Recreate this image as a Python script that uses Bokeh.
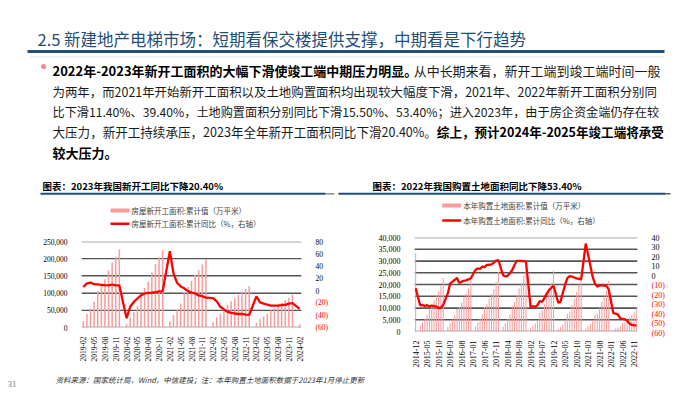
import math
import numpy as np
from bokeh.plotting import figure
from bokeh.models import (Range1d, FixedTicker, ColumnDataSource, NumeralTickFormatter)
from bokeh.layouts import column, row
from bokeh.embed import file_html
from bokeh.resources import INLINE
from bokeh.core.properties import value

CJK = "Noto Sans CJK SC"
SERIF = "Liberation Serif"
BAR_COLOR = "#F79C9C"
LINE_COLOR = "#FF0000"
GRID_COLOR = "#555555"
NAVY = "#1F4E79"

# ---------------- texts ----------------
TITLE = "2.5 新建地产电梯市场：短期看保交楼提供支撑，中期看是下行趋势"
PARAGRAPH = [
    [("2022年-2023年新开工面积的大幅下滑使竣工端中期压力明显。", True), ("从中长期来看，新开工端到竣工端时间一般", False)],
    [("为两年，而2021年开始新开工面积以及土地购置面积均出现较大幅度下滑，2021年、2022年新开工面积分别同", False)],
    [("比下滑11.40%、39.40%，土地购置面积分别同比下滑15.50%、53.40%；进入2023年，由于房企资金端仍存在较", False)],
    [("大压力，新开工持续承压，2023年全年新开工面积同比下滑20.40%。", False), ("综上，预计2024年-2025年竣工端将承受", True)],
    [("较大压力。", True)],
]
C1_TITLE = "图表：2023年我国新开工同比下降20.40%"
C2_TITLE = "图表：2022年我国购置土地面积同比下降53.40%"
C1_LEG = ["房屋新开工面积:累计值（万平米）", "房屋新开工面积:累计同比（%，右轴）"]
C2_LEG = ["本年购置土地面积:累计值（万平米）", "本年购置土地面积:累计同比（%，右轴）"]
SOURCE = "资料来源：国家统计局，Wind，中信建投；注：本年购置土地面积数据于2023年1月停止更新"
PAGE_NO = "31"

# ---------------- chart 1 data: 房屋新开工面积 (2019-02 .. 2024-02) ----------------
c1_area_2019 = [18814, 39394, 56000, 75000, 105509, 121000, 140000, 165707, 188837, 206024, 227154]  # Feb..Dec
c1_area_2020 = [None, 10370, 28203, 44272, 61557, 97537, 114942, 132795, 160001, 183896, 204125, 224433]
c1_area_2021 = [None, 17093, 36163, 52297, 69996, 101288, 118011, 135640, 152944, 166736, 182820, 198895]
c1_area_2022 = [None, 15115, 29638, 39739, 51628, 66423, 76091, 85062, 94767, 103722, 111632, 120587]
c1_area_2023 = [None, 13567, 24121, 31832, 39723, 49880, 56969, 63891, 72123, 79177, 86499, 95376]
c1_area_2024 = [None, 9429]
c1_yoy_2019 = [6.0, 11.9, 13.1, 10.5, 10.1, 9.5, 8.9, 8.6, 10.0, 8.6, 8.5]
c1_yoy_2020 = [None, -44.9, -26.2, -18.4, -12.8, -7.6, -4.5, -3.6, -3.4, -2.6, -1.1, -1.2]
c1_yoy_2021 = [None, 64.3, 28.2, 12.8, 6.9, 3.8, -0.9, -3.2, -4.5, -7.7, -9.1, -11.4]
c1_yoy_2022 = [None, -12.2, -17.5, -26.3, -30.6, -34.4, -36.1, -37.2, -38.0, -37.8, -38.9, -39.4]
c1_yoy_2023 = [None, -9.4, -19.2, -21.2, -22.6, -24.3, -24.5, -24.4, -23.4, -23.2, -21.2, -20.4]
c1_yoy_2024 = [None, -29.7]
c1_tick_labels = ["2019-02", "2019-05", "2019-08", "2019-11", "2020-02", "2020-05", "2020-08",
                  "2020-11", "2021-02", "2021-05", "2021-08", "2021-11", "2022-02", "2022-05",
                  "2022-08", "2022-11", "2023-02", "2023-05", "2023-08", "2023-11", "2024-02"]
c1_left_ticks = [0, 50000, 100000, 150000, 200000, 250000]
c1_right_ticks = [-60, -40, -20, 0, 20, 40, 60, 80]

# ---------------- chart 2 data: 本年购置土地面积 (2014-12 .. 2022-12) ----------------
c2_area_2014 = [33383]  # Dec
c2_area_2015 = [None, 2550, 3985, 5460, 7180, 9830, 11600, 13300, 15300, 17040, 19300, 22811]
c2_area_2016 = [None, 2032, 3586, 5060, 6900, 9525, 10575, 12370, 14398, 16111, 18266, 22025]
c2_area_2017 = [None, 2155, 3801, 5354, 7275, 10286, 11622, 13720, 16022, 18036, 20983, 25508]
c2_area_2018 = [None, 2112, 3736, 5288, 7201, 10956, 12597, 15461, 18416, 20727, 23951, 29142]
c2_area_2019 = [None, 1392, 2501, 3501, 4811, 7942, 8902, 11514, 14695, 17250, 20550, 25822]
c2_area_2020 = [None, 984, 1841, 2839, 4655, 7520, 8607, 11157, 14136, 16849, 19857, 25536]
c2_area_2021 = [None, 1313, 2370, 3197, 4596, 6988, 7647, 9844, 12645, 14907, 17397, 21590]
c2_area_2022 = [None, 758, 1378, 1709, 2377, 3628, 3925, 4942, 5944, 7009, 8199, 10052]
c2_yoy_2014 = [-14.0]
c2_yoy_2015 = [None, -32.3, -31.8, -33.0, -32.0, -33.5, -32.5, -33.0, -33.5, -35.0, -34.5, -31.7]
c2_yoy_2016 = [None, -19.5, -9.0, -7.0, -5.0, -3.0, -8.5, -7.0, -6.0, -5.5, -4.5, -3.4]
c2_yoy_2017 = [None, 5.4, 7.2, 6.5, 9.1, 8.5, 10.9, 11.0, 11.4, 13.2, 15.5, 15.8]
c2_yoy_2018 = [None, 0.0, -1.5, -0.8, 2.0, 5.4, 10.7, 15.2, 15.2, 15.0, 14.8, 14.2]
c2_yoy_2019 = [None, -34.1, -33.1, -33.8, -32.0, -27.6, -28.5, -24.5, -20.0, -16.0, -13.5, -11.4]
c2_yoy_2020 = [None, -29.3, -28.5, -19.0, -10.2, -3.3, -1.0, -1.5, -2.5, -3.5, -4.0, -4.5]
c2_yoy_2021 = [None, 33.5, 22.0, 10.0, -2.0, -9.0, -12.3, -11.0, -11.0, -11.2, -11.6, -15.5]
c2_yoy_2022 = [None, -40.5, -41.0, -42.0, -46.0, -46.5, -47.0, -48.5, -51.5, -53.0, -53.4, -53.4]
c2_tick_labels = ["2014-12", "2015-05", "2015-10", "2016-03", "2016-08", "2017-01", "2017-06",
                  "2017-11", "2018-04", "2018-09", "2019-02", "2019-07", "2019-12", "2020-05",
                  "2020-10", "2021-03", "2021-08", "2022-01", "2022-06", "2022-11"]
c2_left_ticks = [0, 5000, 10000, 15000, 20000, 25000, 30000, 35000, 40000]
c2_right_ticks = [-60, -50, -40, -30, -20, -10, 0, 10, 20, 30, 40]


def month_list(y0, m0, y1, m1):
    out = []
    y, m = y0, m0
    while (y, m) <= (y1, m1):
        out.append(f"{y}-{m:02d}")
        m += 1
        if m > 12:
            y, m = y + 1, 1
    return out


c1_months = month_list(2019, 2, 2024, 2)
c1_area = c1_area_2019 + c1_area_2020 + c1_area_2021 + c1_area_2022 + c1_area_2023 + c1_area_2024
c1_yoy = c1_yoy_2019 + c1_yoy_2020 + c1_yoy_2021 + c1_yoy_2022 + c1_yoy_2023 + c1_yoy_2024
c2_months = month_list(2014, 12, 2022, 12)
c2_area = (c2_area_2014 + c2_area_2015 + c2_area_2016 + c2_area_2017 + c2_area_2018 +
           c2_area_2019 + c2_area_2020 + c2_area_2021 + c2_area_2022)
c2_yoy = (c2_yoy_2014 + c2_yoy_2015 + c2_yoy_2016 + c2_yoy_2017 + c2_yoy_2018 +
          c2_yoy_2019 + c2_yoy_2020 + c2_yoy_2021 + c2_yoy_2022)


def style_axis(ax, font_px, standoff, color="#000000"):
    ax.axis_line_color = None
    ax.major_tick_line_color = None
    ax.minor_tick_line_color = None
    ax.major_label_standoff = standoff
    ax.major_label_text_font = SERIF
    ax.major_label_text_font_size = f"{font_px}px"
    ax.major_label_text_color = color


def right_axis_fig(width, height, bt, bb, yr, ticks, color, font_px, standoff):
    """Narrow figure whose only content is a right-hand y axis (secondary scale)."""
    f = figure(width=width, height=height, x_range=Range1d(0, 1), y_range=yr,
               output_backend="svg", toolbar_location=None,
               x_axis_location=None, y_axis_location="right",
               min_border_left=0, min_border_right=width - 1,
               min_border_top=bt, min_border_bottom=bb)
    f.grid.visible = False
    f.outline_line_color = None
    ax = f.yaxis[0]
    ax.ticker = FixedTicker(ticks=ticks)
    ax.major_label_overrides = {t: (f"({abs(t)})" if t < 0 else str(t)) for t in ticks}
    style_axis(ax, font_px, standoff, color)
    return f


def make_chart(main_w, side_w, height, bl, bt, fh, bb, months, area, yoy, tick_labels,
               left_ticks, right_ticks, font_px, pos_frame_h, bar_w):
    n = len(months)
    p = figure(width=main_w, height=height,
               x_range=Range1d(-0.5, n - 0.5),
               y_range=Range1d(left_ticks[0], left_ticks[-1]),
               output_backend="svg", toolbar_location=None,
               min_border_left=bl, min_border_right=4,
               min_border_top=bt, min_border_bottom=bb)
    p.extra_y_ranges = {"y2": Range1d(right_ticks[0], right_ticks[-1])}
    p.outline_line_color = None
    p.xgrid.visible = False
    p.ygrid.grid_line_color = GRID_COLOR
    p.ygrid.grid_line_width = 1

    # horizontal gridlines at the primary-axis ticks as thin filled bands
    band = 1.3 * (left_ticks[-1] - left_ticks[0]) / fh   # ~1.3 px in data units
    p.hbar(y=left_ticks, left=-0.5, right=n - 0.5, height=band,
           fill_color=GRID_COLOR, line_color=None)

    xs = list(range(n))
    tops = [np.nan if v is None else v for v in area]
    p.vbar(x="x", top="top", bottom=0, width=bar_w,
           source=ColumnDataSource(dict(x=xs, top=tops)),
           fill_color=BAR_COLOR, line_color=None)

    li = [i for i, v in enumerate(yoy) if v is not None]
    p.line(x=li, y=[yoy[i] for i in li], y_range_name="y2",
           line_color=LINE_COLOR, line_width=2.3)

    pos = [months.index(l) for l in tick_labels]
    xa = p.xaxis[0]
    xa.ticker = FixedTicker(ticks=pos)
    xa.major_label_overrides = {k: l for k, l in zip(pos, tick_labels)}
    xa.major_label_orientation = math.pi / 2
    style_axis(xa, font_px, 3)

    ya = p.yaxis[0]
    ya.ticker = FixedTicker(ticks=left_ticks)
    ya.formatter = NumeralTickFormatter(format="0,0")
    style_axis(ya, font_px, 8)

    # secondary (right) axis, split in two stacked narrow figures so that the
    # non-negative labels are black and the negative ones red, as in the source
    lo, hi = right_ticks[0], right_ticks[-1]
    per_unit = fh / (hi - lo)
    split = hi - pos_frame_h / per_unit
    pos_ticks = [t for t in right_ticks if t >= 0]
    neg_ticks = [t for t in right_ticks if t < 0]
    fpos = right_axis_fig(side_w, bt + pos_frame_h, bt, 0, Range1d(split, hi),
                          pos_ticks, "#000000", font_px, 3)
    fneg = right_axis_fig(side_w, height - bt - pos_frame_h, 0, bb, Range1d(lo, split),
                          neg_ticks, LINE_COLOR, font_px, 3)
    return row(p, column(fpos, fneg, spacing=0), spacing=0)


def blank(width, height, x0, x1, y_top, y_bottom):
    p = figure(width=width, height=height, x_range=Range1d(x0, x1),
               y_range=Range1d(y_bottom, y_top), output_backend="svg",
               toolbar_location=None, min_border=0,
               x_axis_location=None, y_axis_location=None)
    p.grid.visible = False
    p.outline_line_color = None
    return p


def text_width(s, px):
    w = 0.0
    for ch in s:
        if ord(ch) >= 0x2E80 or ch in "，。；、：（）":
            w += 1.0
        elif ch.isdigit():
            w += 0.555
        elif ch == ".":
            w += 0.27
        elif ch == "%":
            w += 0.88
        elif ch == "-":
            w += 0.36
        elif ch == " ":
            w += 0.25
        else:
            w += 0.55
    return w * px


# ---------------- header (page coords 0..700 x 0..230) ----------------
header = blank(700, 230, 0, 700, 0, 230)
header.text(x=[37], y=[38], text=[TITLE], text_font=value(CJK),
            text_font_size="16.5px", text_color=NAVY, text_baseline="middle")
header.line(x=[27, 664], y=[51, 51], line_width=3, line_color=NAVY)
header.line(x=[30, 664], y=[56.5, 56.5], line_width=1, line_color="#E3E3E3")
header.scatter(x=[43], y=[66], size=5, marker="circle", fill_color="#F08A8A", line_color=None)

line_y = [70, 91, 111, 131, 152]
line_target = [608, 605, 605, 608, None]
for segs, yy, target in zip(PARAGRAPH, line_y, line_target):
    natural = sum(text_width(s, 13) for s, _ in segs)
    px = 13 if target is None else min(13.5, 13 * target / natural)
    x = 52
    for s, bold in segs:
        header.text(x=[x], y=[yy], text=[s], text_font=value(CJK),
                    text_font_size=f"{px:.2f}px", text_baseline="middle",
                    text_color="#000000" if bold else "#1A1A1A",
                    text_font_style="bold" if bold else "normal")
        x += text_width(s, px)

# chart titles
header.text(x=[42, 372], y=[185, 185], text=[C1_TITLE, C2_TITLE], text_font=value(CJK),
            text_font_size="9.5px", text_font_style="bold", text_color="#000000",
            text_baseline="middle")
header.line(x=[40, 325], y=[193.3, 193.3], line_width=2, line_color=NAVY)
header.line(x=[325, 334], y=[193.3, 193.3], line_width=1.5, line_color="#8C8C8C")
header.line(x=[338, 665], y=[193.3, 193.3], line_width=2, line_color=NAVY)
header.line(x=[665, 670], y=[193.3, 193.3], line_width=1.5, line_color="#595959")

# legends
for (lx, ly1, ly2, labels) in [(110, 210, 223.3, C1_LEG), (441.7, 205, 220, C2_LEG)]:
    header.line(x=[lx, lx + 19], y=[ly1, ly1], line_width=4, line_color=BAR_COLOR)
    header.line(x=[lx, lx + 19], y=[ly2, ly2], line_width=2.5, line_color=LINE_COLOR)
    header.text(x=[lx + 21, lx + 21], y=[ly1, ly2], text=labels, text_font=value(CJK),
                text_font_size="7.5px", text_color="#404040", text_baseline="middle")

# ---------------- charts (page y 230..370) ----------------
# chart 1: page x 0..340, frame x 81..302, y 241..327
chart1 = make_chart(305, 35, 140, 81, 11, 86, 43, c1_months, c1_area, c1_yoy,
                    c1_tick_labels, c1_left_ticks, c1_right_ticks, 7.5, 55, 0.42)
# chart 2: page x 340..700, frame x 414..637, y 237..333
chart2 = make_chart(301, 59, 140, 74, 7, 96, 37, c2_months, c2_area, c2_yoy,
                    c2_tick_labels, c2_left_ticks, c2_right_ticks, 8, 43, 0.45)

# ---------------- footer (page y 370..392) ----------------
footer = blank(700, 22, 0, 700, 370, 392)
footer.text(x=[55], y=[379], text=[SOURCE], text_font=value(CJK), text_font_size="7.5px",
            text_font_style="italic", text_color="#333333", text_baseline="middle")
footer.text(x=[7], y=[383], text=[PAGE_NO], text_font=value(SERIF), text_font_size="9px",
            text_color="#808080", text_baseline="middle")

layout = column(header, row(chart1, chart2, spacing=0), footer, spacing=0)
open("out.html", "w").write(file_html(layout, INLINE))
